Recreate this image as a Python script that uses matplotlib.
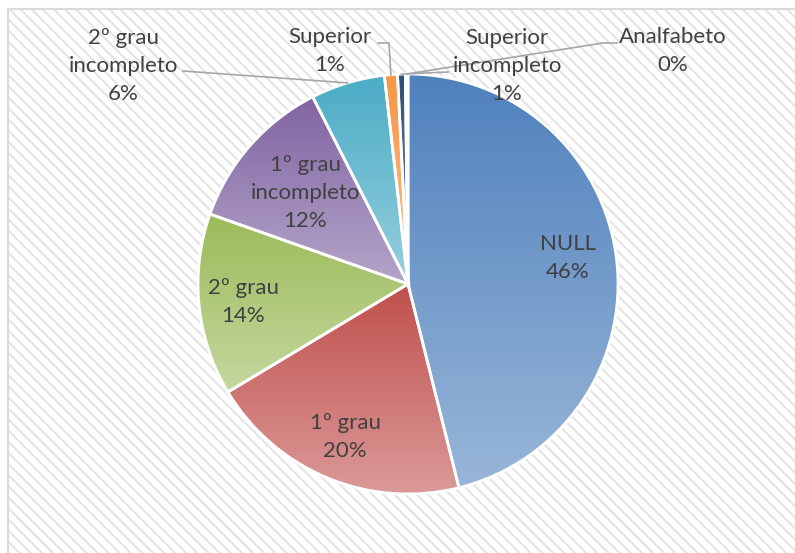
import numpy as np
import matplotlib
matplotlib.use("Agg")
import matplotlib.pyplot as plt
from matplotlib.patches import Rectangle
from matplotlib.colors import to_rgb

# --- data ---
categories = ["NULL", "1º grau", "2º grau", "1º grau\nincompleto", "2º grau\nincompleto",
              "Superior", "Superior\nincompleto", "Analfabeto"]
shares = [46.1, 20.3, 14.0, 12.1, 5.7, 1.0, 0.6, 0.2]
colors = ["#4F81BD", "#C0504D", "#9BBB59", "#8064A2", "#4BACC6", "#F79646", "#2C4D75", "#772C2A"]

# --- layout (pixel coords, y measured from top) ---
W, H = 795, 553
center = (408, 284)
radius = 210
label_pos = [(568, 258), (345, 437), (243, 302), (305, 193), (123, 66),
             (330, 51), (507, 66), (673, 51)]
# leader lines for the outside labels: start point, optional elbow
leaders = {4: [(183, 71)], 5: [(378, 43), (389, 43)], 6: [(448, 72)], 7: [(617, 43), (603, 43)]}

plt.rcParams['font.family'] = ['Lato', 'DejaVu Sans']
plt.rcParams['hatch.linewidth'] = 1.5

fig = plt.figure(figsize=(W / 100, H / 100), dpi=100)
ax = fig.add_axes([0, 0, 1, 1])

def fy(y):
    return H - y

# hatched background + frame
ax.add_patch(Rectangle((8, -10), W + 20, fy(9) + 10, facecolor="white",
                       edgecolor="#E4E4E4", hatch="\\\\\\", linewidth=0, zorder=0))
ax.add_patch(Rectangle((8, -10), W + 20, fy(9) + 10, facecolor="none",
                       edgecolor="#D9D9D9", linewidth=1.5, zorder=1))

wedges, _ = ax.pie(shares, colors=colors, startangle=90, counterclock=False,
                   center=(center[0], fy(center[1])), radius=radius,
                   wedgeprops=dict(edgecolor="white", linewidth=2))

# vertical gradient fill, darker at top, lighter at bottom
for w, c in zip(wedges, colors):
    base = np.array(to_rgb(c))
    light = base + (1 - base) * 0.42
    t = np.linspace(0, 1, 256)[:, None]
    grad = (light * (1 - t) + base * t)[:, None, :]  # row 0 at bottom
    ext = w.get_path().get_extents()
    im = ax.imshow(grad, extent=(ext.x0, ext.x1, ext.y0, ext.y1), origin="lower",
                   aspect="auto", interpolation="bilinear", zorder=2)
    im.set_clip_path(w)
    w.set_facecolor("none")
    w.set_zorder(3)

# labels
for i, (cat, val) in enumerate(zip(categories, shares)):
    x, y = label_pos[i]
    ax.text(x, fy(y), f"{cat}\n{round(val):.0f}%", ha="center", va="center",
            fontsize=16, color="#404040", linespacing=1.47, zorder=5)

# leader lines to the wedge mid-angle on the rim
for i, pts in leaders.items():
    w = wedges[i]
    mid = np.deg2rad((w.theta1 + w.theta2) / 2)
    ax_x = w.center[0] + radius * np.cos(mid)
    ax_y = w.center[1] + radius * np.sin(mid)
    xs = [p[0] for p in pts] + [ax_x]
    ys = [fy(p[1]) for p in pts] + [ax_y]
    ax.plot(xs, ys, color="#A6A6A6", linewidth=1.2, zorder=4)

ax.set_xlim(0, W)
ax.set_ylim(0, H)
ax.set_aspect("auto")
ax.axis("off")

fig.savefig("out.png", dpi=100)
